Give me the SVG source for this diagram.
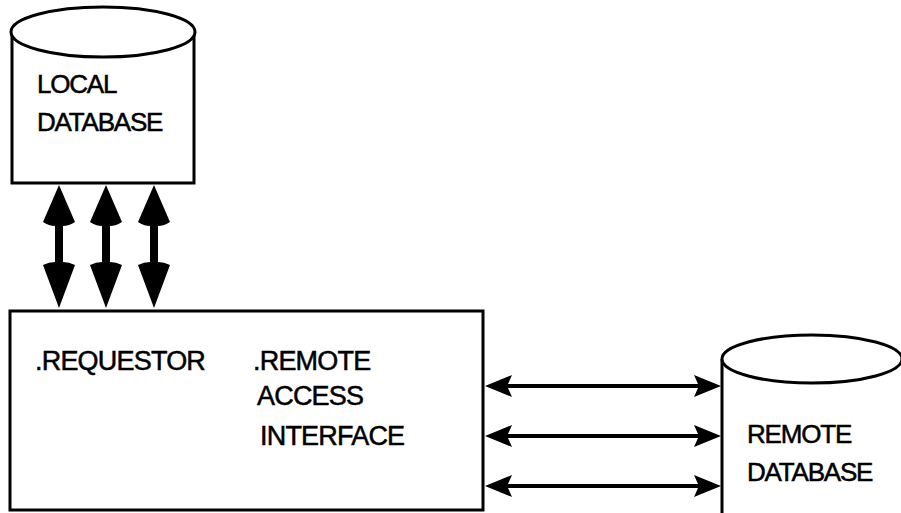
<svg xmlns="http://www.w3.org/2000/svg" width="901" height="513" viewBox="0 0 901 513">
  <style>
    .shape { fill: #fff; stroke: #000; stroke-width: 3; }
    .label { font-family: "Liberation Sans", Arial, sans-serif; font-size: 26px; letter-spacing: -1.2px; fill: #000; stroke: #000; stroke-width: 0.5; }
    .big { font-size: 27px; letter-spacing: -0.8px; }
    .arrow { fill: #000; stroke: none; }
  </style>
  <defs>
    <!-- thick double-headed vertical arrow, tip at y=0 -->
    <path id="vArrow" d="M0 0 L16 37 Q10 41 4 41 V77 Q10 77 16 80 L0 123 L-16 80 Q-10 77 -4 77 V41 Q-10 41 -16 37 Z"/>
    <!-- thin double-headed horizontal arrow, left tip at x=0 -->
    <path id="hArrow" d="M0 0 L27 -11 L23 -2 H213 L209 -11 L236 0 L209 11 L213 2 H23 L27 11 Z"/>
  </defs>

  <rect width="901" height="513" fill="#fff"/>

  <g id="local-database">
    <path class="shape" d="M12 32 V183 H194 V32"/>
    <ellipse class="shape" cx="103" cy="32" rx="92" ry="25"/>
    <text class="label" x="37" y="93">LOCAL</text>
    <text class="label" x="37" y="131">DATABASE</text>
  </g>

  <g id="requestor">
    <rect class="shape" x="10" y="311" width="473" height="199"/>
    <text class="label big" x="35" y="370">.REQUESTOR</text>
    <text class="label big" x="253" y="370">.REMOTE</text>
    <text class="label big" x="257" y="405">ACCESS</text>
    <text class="label big" x="260" y="445">INTERFACE</text>
  </g>

  <g id="remote-database">
    <path class="shape" d="M722 359 V520 H903 V359"/>
    <ellipse class="shape" cx="812" cy="359" rx="90" ry="24"/>
    <text class="label" x="747" y="443">REMOTE</text>
    <text class="label" x="747" y="481">DATABASE</text>
  </g>

  <g id="connectors" class="arrow">
    <use href="#vArrow" x="59" y="185"/>
    <use href="#vArrow" x="106" y="185"/>
    <use href="#vArrow" x="154" y="185"/>
    <use href="#hArrow" x="485" y="386"/>
    <use href="#hArrow" x="485" y="436"/>
    <use href="#hArrow" x="485" y="486"/>
  </g>
</svg>
